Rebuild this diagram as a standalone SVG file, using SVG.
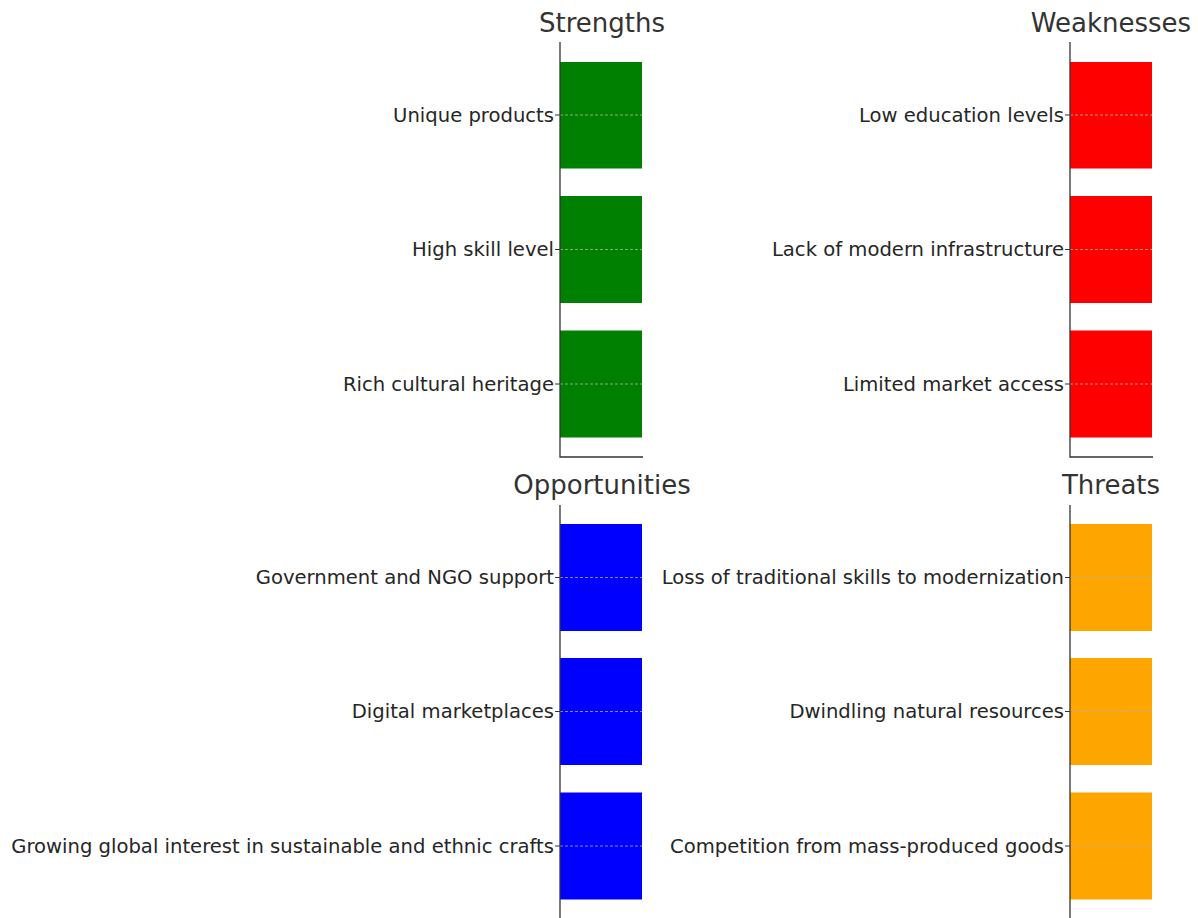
<svg xmlns="http://www.w3.org/2000/svg" width="1198" height="918" viewBox="0 0 1198 918">
<style>
.title{font-family:"DejaVu Sans",sans-serif;font-size:26px;fill:#333;text-anchor:middle}
.lbl{font-family:"DejaVu Sans",sans-serif;font-size:19.6px;fill:#262626;text-anchor:end;dominant-baseline:central}
.spine{stroke:#333;stroke-width:1.3;fill:none}
.tick{stroke:#333;stroke-width:1.1}
.grid{stroke:#b0b0b0;stroke-width:0.8;stroke-dasharray:3,2}
</style>
<rect width="1198" height="918" fill="#fff"/>
<g id="strengths">
<text class="title" x="602" y="32">Strengths</text>
<rect x="560" y="62" width="82" height="106.5" fill="#008000"/>
<rect x="560" y="196" width="82" height="107" fill="#008000"/>
<rect x="560" y="330.5" width="82" height="107" fill="#008000"/>
<line class="grid" x1="560" y1="115" x2="642" y2="115"/>
<line class="grid" x1="560" y1="249.5" x2="642" y2="249.5"/>
<line class="grid" x1="560" y1="384" x2="642" y2="384"/>
<path class="spine" d="M560,42V457H643"/>
<path class="tick" d="M555,115H560M555,249.5H560M555,384H560"/>
<text class="lbl" x="554" y="115">Unique products</text>
<text class="lbl" x="554" y="249.5">High skill level</text>
<text class="lbl" x="554" y="384">Rich cultural heritage</text>
</g>
<g id="weaknesses">
<text class="title" x="1111" y="32">Weaknesses</text>
<rect x="1070" y="62" width="82" height="106.5" fill="#ff0000"/>
<rect x="1070" y="196" width="82" height="107" fill="#ff0000"/>
<rect x="1070" y="330.5" width="82" height="107" fill="#ff0000"/>
<line class="grid" x1="1070" y1="115" x2="1152" y2="115"/>
<line class="grid" x1="1070" y1="249.5" x2="1152" y2="249.5"/>
<line class="grid" x1="1070" y1="384" x2="1152" y2="384"/>
<path class="spine" d="M1070,42V457H1153"/>
<path class="tick" d="M1065,115H1070M1065,249.5H1070M1065,384H1070"/>
<text class="lbl" x="1064" y="115">Low education levels</text>
<text class="lbl" x="1064" y="249.5">Lack of modern infrastructure</text>
<text class="lbl" x="1064" y="384">Limited market access</text>
</g>
<g id="opportunities">
<text class="title" x="602" y="494">Opportunities</text>
<rect x="560" y="524" width="82" height="107" fill="#0000ff"/>
<rect x="560" y="658" width="82" height="107" fill="#0000ff"/>
<rect x="560" y="792.5" width="82" height="107" fill="#0000ff"/>
<line class="grid" x1="560" y1="577.5" x2="642" y2="577.5"/>
<line class="grid" x1="560" y1="711.5" x2="642" y2="711.5"/>
<line class="grid" x1="560" y1="846" x2="642" y2="846"/>
<path class="spine" d="M560,505V919H643"/>
<path class="tick" d="M555,577.5H560M555,711.5H560M555,846H560"/>
<text class="lbl" x="554" y="577.5">Government and NGO support</text>
<text class="lbl" x="554" y="711.5">Digital marketplaces</text>
<text class="lbl" x="554" y="846">Growing global interest in sustainable and ethnic crafts</text>
</g>
<g id="threats">
<text class="title" x="1111" y="494">Threats</text>
<rect x="1070" y="524" width="82" height="107" fill="#ffa500"/>
<rect x="1070" y="658" width="82" height="107" fill="#ffa500"/>
<rect x="1070" y="792.5" width="82" height="107" fill="#ffa500"/>
<line class="grid" x1="1070" y1="577.5" x2="1152" y2="577.5"/>
<line class="grid" x1="1070" y1="711.5" x2="1152" y2="711.5"/>
<line class="grid" x1="1070" y1="846" x2="1152" y2="846"/>
<path class="spine" d="M1070,505V919H1153"/>
<path class="tick" d="M1065,577.5H1070M1065,711.5H1070M1065,846H1070"/>
<text class="lbl" x="1064" y="577.5">Loss of traditional skills to modernization</text>
<text class="lbl" x="1064" y="711.5">Dwindling natural resources</text>
<text class="lbl" x="1064" y="846">Competition from mass-produced goods</text>
</g>
<g id="connectors"></g>
</svg>
